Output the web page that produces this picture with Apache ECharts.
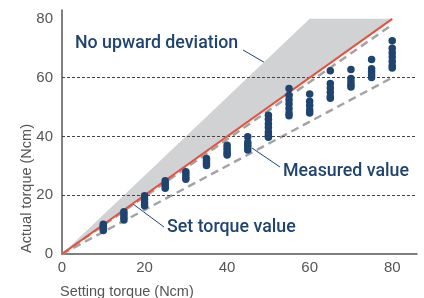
<!DOCTYPE html>
<html>
<head>
<meta charset="utf-8">
<script src="https://cdn.jsdelivr.net/npm/echarts@6/dist/echarts.min.js"></script>
<style>
  html, body { margin: 0; padding: 0; background: #fff; }
  #chart { width: 424px; height: 298px; }
</style>
</head>
<body>
<div id="chart"></div>
<script>
// setting torque for each measured column
const settings = [10, 15, 20, 25, 30, 35, 40, 45, 50, 55, 60, 65, 70, 75, 80];
const measured = [
  [10.1, 9.4, 8.7, 8.0],
  [14.4, 13.5, 12.5, 11.6],
  [19.8, 18.7, 17.5, 16.4],
  [24.9, 24.0, 23.2, 22.4],
  [28.0, 27.2, 26.3, 25.4],
  [32.5, 31.7, 30.9, 30.1],
  [37.0, 36.0, 35.0, 34.2, 33.7],
  [39.9, 38.0, 37.2, 36.4, 35.4],
  [47.2, 45.8, 44.3, 43.0, 41.5, 40.5, 39.7],
  [56.3, 54.0, 52.5, 51.0, 49.5, 48.0, 47.0],
  [54.4, 52.0, 50.5, 49.0, 48.0],
  [62.3, 58.0, 56.5, 55.0, 53.5, 53.0],
  [62.8, 59.7, 58.5, 57.5, 56.8],
  [66.2, 63.0, 62.0, 61.0, 60.0],
  [72.5, 70.0, 68.5, 67.0, 65.5, 64.0, 63.3]
];
const setLine = [[0, 0], [80, 80]];
const upperDash = [[0, 0], [80, 78]];
const lowerDash = [[0, 0], [80, 60]];
const noUpBand = [[0, 0], [60, 80], [80, 80]];
const gridValues = [20, 40, 60];
const yTicks = [0, 20, 40, 60, 80];

const navy = '#1f4470';
const font = 'Helvetica, "Liberation Sans", Arial, sans-serif';
const noteFont = '500 17.8px Roboto, sans-serif';

let points = [];
settings.forEach(function (s, i) {
  measured[i].forEach(function (v) { points.push([s, v]); });
});

let chart = echarts.init(document.getElementById('chart'));

chart.setOption({
  animation: false,
  grid: { left: 62, top: 10, width: 355, height: 244, containLabel: false },
  xAxis: {
    type: 'value', min: 0, max: 86, interval: 20,
    axisLine: { lineStyle: { color: '#555', width: 1.5 } },
    axisTick: { show: false },
    splitLine: { show: false },
    axisLabel: { color: '#555', fontSize: 15, fontFamily: font, margin: 6, showMaxLabel: false }
  },
  yAxis: {
    type: 'value', min: 0, max: 83, interval: 20,
    axisLine: { show: true, lineStyle: { color: '#555', width: 1.5 } },
    axisTick: { show: false },
    splitLine: { show: false },
    axisLabel: {
      color: '#555', fontSize: 15, fontFamily: font, margin: 9,
      formatter: function (v) { return yTicks.indexOf(v) >= 0 ? String(v) : ''; }
    }
  },
  series: [
    {
      // grey "no upward deviation" band
      type: 'custom',
      z: 1,
      silent: true,
      data: [0],
      renderItem: function (params, api) {
        return {
          type: 'polygon',
          shape: { points: noUpBand.map(function (p) { return api.coord(p); }) },
          style: { fill: '#d1d2d4' }
        };
      }
    },
    {
      type: 'line', z: 3, data: [], symbol: 'none',
      markLine: {
        silent: true, symbol: 'none', label: { show: false },
        lineStyle: { color: '#444', type: [3, 2], width: 1 },
        data: gridValues.map(function (v) { return { yAxis: v }; })
      }
    },
    {
      type: 'line', z: 4, data: lowerDash, symbol: 'none',
      lineStyle: { color: '#a3a3a3', width: 2.5, type: [8, 5] }
    },
    {
      type: 'line', z: 4, data: upperDash, symbol: 'none',
      lineStyle: { color: '#a3a3a3', width: 2.5, type: [8, 5] }
    },
    {
      type: 'line', z: 5, data: setLine, symbol: 'none',
      lineStyle: { color: '#e9503b', width: 2 }
    },
    {
      type: 'scatter', z: 6, data: points,
      symbolSize: 7.5,
      itemStyle: { color: navy, opacity: 1 }
    }
  ],
  graphic: [
    {
      type: 'text', left: 19, top: 124, rotation: Math.PI / 2,
      style: { text: 'Actual torque (Ncm)', fill: '#555', font: '14.5px ' + font }
    },
    {
      type: 'text', x: 60, y: 284,
      style: { text: 'Setting torque (Ncm)', fill: '#555', font: '14.5px ' + font }
    },
    {
      type: 'text', x: 75, y: 35,
      style: { text: 'No upward deviation', fill: navy, font: noteFont }
    },
    { type: 'line', shape: { x1: 243, y1: 50, x2: 274, y2: 68 }, style: { stroke: navy, lineWidth: 1 } },
    {
      type: 'text', x: 283, y: 163,
      style: { text: 'Measured value', fill: navy, font: noteFont }
    },
    { type: 'line', shape: { x1: 252, y1: 148, x2: 280, y2: 167 }, style: { stroke: navy, lineWidth: 1 } },
    {
      type: 'text', x: 167, y: 219,
      style: { text: 'Set torque value', fill: navy, font: noteFont }
    },
    { type: 'line', shape: { x1: 133, y1: 204, x2: 164, y2: 227 }, style: { stroke: navy, lineWidth: 1 } }
  ]
});
</script>
</body>
</html>
